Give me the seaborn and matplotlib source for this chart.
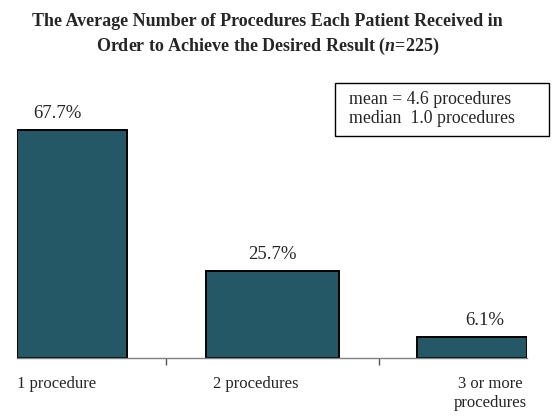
import matplotlib
matplotlib.use("Agg")
import matplotlib.pyplot as plt
from matplotlib.patches import Rectangle
import seaborn as sns

# ── Data ────────────────────────────────────────────────────────────────
categories = ["1 procedure", "2 procedures", "3 or more\nprocedures"]
percent = [67.7, 25.7, 6.1]
summary_lines = ["mean = 4.6 procedures", "median  1.0 procedures"]

BAR_COLOR = "#245866"
SERIF = "Liberation Serif"

sns.set_style("white")
plt.rcParams["font.family"] = [SERIF, "DejaVu Serif"]
plt.rcParams["mathtext.fontset"] = "custom"
plt.rcParams["mathtext.it"] = f"{SERIF}:italic:bold"
plt.rcParams["mathtext.rm"] = f"{SERIF}:bold"

fig = plt.figure(figsize=(5.55, 4.16), dpi=100)
ax = fig.add_axes([17 / 555, (416 - 358) / 416, 510 / 555, 298 / 416])

sns.barplot(x=categories, y=percent, color=BAR_COLOR, edgecolor="black",
            linewidth=1.4, width=0.55, saturation=1, ax=ax)

# the middle bar is drawn a bit wider in the original
mid = ax.patches[1]
cx = mid.get_x() + mid.get_width() / 2
mid.set_width(0.665)
mid.set_x(cx - 0.665 / 2)

ax.set_xlim(-0.275, 2.275)
ax.set_ylim(0, 298 / 3.368)

# value labels
offsets = [-0.075, 0.0, 0.065]
for i, (p, v) in enumerate(zip(ax.patches, percent)):
    x = p.get_x() + p.get_width() / 2 + offsets[i]
    ax.annotate(f"{v}%", (x, v), xytext=(0, 6), textcoords="offset points",
                ha="center", va="bottom", fontsize=13.5)

# axis styling: only a grey baseline with small ticks between groups
for s in ["top", "right", "left"]:
    ax.spines[s].set_visible(False)
ax.spines["bottom"].set_color("#808080")
ax.spines["bottom"].set_linewidth(1.0)
ax.set_yticks([])
ax.set_xticks([0.47, 1.535])
ax.set_xticklabels([])
ax.tick_params(axis="x", direction="out", length=5, width=1, color="#555555",
               bottom=True)
ax.set_xlabel("")
ax.set_ylabel("")

# category labels
ax.text(-0.275, -0.06, categories[0], transform=ax.get_xaxis_transform(),
        ha="left", va="top", fontsize=12)
ax.text(0.92, -0.06, categories[1], transform=ax.get_xaxis_transform(),
        ha="center", va="top", fontsize=12)
ax.text(2.275, -0.06, categories[2], transform=ax.get_xaxis_transform(),
        ha="right", va="top", fontsize=12, multialignment="center",
        linespacing=1.25)

# summary box
fig.patches.append(Rectangle((335 / 555, 1 - 136 / 416), 214 / 555, 53 / 416,
                             transform=fig.transFigure, facecolor="white",
                             edgecolor="black", linewidth=1.0))
fig.text(349 / 555, 1 - 109 / 416, "\n".join(summary_lines), ha="left",
         va="center", fontsize=12.8, linespacing=1.1)

# title
fig.text(0.482, 1 - 21 / 416,
         "The Average Number of Procedures Each Patient Received in",
         ha="center", va="center", fontsize=13, fontweight="bold")
fig.text(0.482, 1 - 46 / 416,
         r"Order to Achieve the Desired Result ($n$=225)",
         ha="center", va="center", fontsize=13, fontweight="bold")

fig.savefig("out.png", dpi=100)
